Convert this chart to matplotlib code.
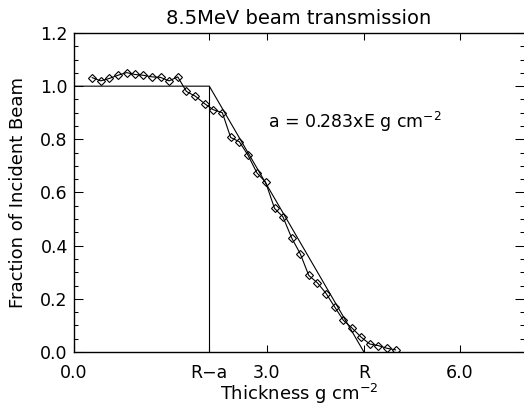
import matplotlib
matplotlib.use("Agg")
import matplotlib.pyplot as plt
from matplotlib.ticker import MultipleLocator, FixedLocator

# ---- data ----
thickness = [0.284, 0.415, 0.548, 0.683, 0.818, 0.947, 1.076, 1.211, 1.346, 1.479,
             1.614, 1.749, 1.889, 2.033, 2.162, 2.308, 2.437, 2.572, 2.705, 2.845,
             2.980, 3.120, 3.249, 3.388, 3.519, 3.652, 3.787, 3.922, 4.059, 4.191,
             4.330, 4.470, 4.602, 4.734, 4.869, 5.002]
fraction = [1.032, 1.020, 1.029, 1.041, 1.051, 1.044, 1.041, 1.035, 1.033, 1.020,
            1.035, 0.980, 0.962, 0.934, 0.912, 0.900, 0.807, 0.791, 0.741, 0.674,
            0.639, 0.540, 0.509, 0.428, 0.370, 0.288, 0.260, 0.220, 0.168, 0.119,
            0.089, 0.055, 0.030, 0.024, 0.014, 0.008]

R_minus_a = 2.105
R = 4.51
model_x = [0.0, R_minus_a, R]
model_y = [1.0, 1.0, 0.0]
cut_x = [R_minus_a, R_minus_a]
cut_y = [0.0, 1.0]

xtick_pos = [0.0, R_minus_a, 3.0, R, 6.0]
xtick_labels = ["0.0", "R\u2212a", "3.0", "R", "6.0"]
ytick_pos = [0.0, 0.2, 0.4, 0.6, 0.8, 1.0, 1.2]
ytick_labels = ["0.0", "0.2", "0.4", "0.6", "0.8", "1.0", "1.2"]

title = "8.5MeV beam transmission"
xlabel = r"Thickness g cm$^{-2}$"
ylabel = "Fraction of Incident Beam"
note = r"a = 0.283xE g cm$^{-2}$"

plt.rcParams["font.family"] = ["DejaVu Sans"]
plt.rcParams["mathtext.default"] = "regular"

W, H = 524, 405
fig = plt.figure(figsize=(W / 100, H / 100), dpi=100)
L, Rt, B, T = 74, 524, 352, 33
ax = fig.add_axes([L / W, 1 - B / H, (Rt - L) / W, (B - T) / H])

ax.plot(thickness, fraction, color="black", lw=0.8, marker="D", ms=4.2,
        mfc="none", mec="black", mew=0.8)
ax.plot(model_x, model_y, color="black", lw=0.8)
ax.plot(cut_x, cut_y, color="black", lw=0.8)

ax.set_xlim(0, 7.0)
ax.set_ylim(0, 1.2)

ax.xaxis.set_major_locator(FixedLocator(xtick_pos))
ax.set_xticklabels(xtick_labels)
ax.yaxis.set_major_locator(FixedLocator(ytick_pos))
ax.set_yticklabels(ytick_labels)
ax.yaxis.set_minor_locator(MultipleLocator(0.05))

ax.tick_params(axis="x", which="major", direction="in", length=4.7, width=0.75,
               top=True, bottom=True, labelsize=12.5, pad=8.5)
ax.tick_params(axis="y", which="major", direction="in", length=6.5, width=0.75,
               left=True, right=True, labelsize=12.5, pad=4.5)
ax.tick_params(axis="y", which="minor", direction="in", length=3.2, width=0.75,
               left=True, right=True)
for s in ax.spines.values():
    s.set_linewidth(1.0)
ax.spines["right"].set_visible(False)

ax.text(3.01, 0.866, note, fontsize=12.5, ha="left", va="center")

fig.text(299 / W, 1 - 19 / H, title, fontsize=14, ha="center", va="center")
fig.text(299 / W, 1 - 400 / H, xlabel, fontsize=13, ha="center", va="baseline")
fig.text(18 / W, 1 - 192.5 / H, ylabel, fontsize=13, ha="center", va="center",
         rotation=90)

fig.savefig("out.png", dpi=100)
